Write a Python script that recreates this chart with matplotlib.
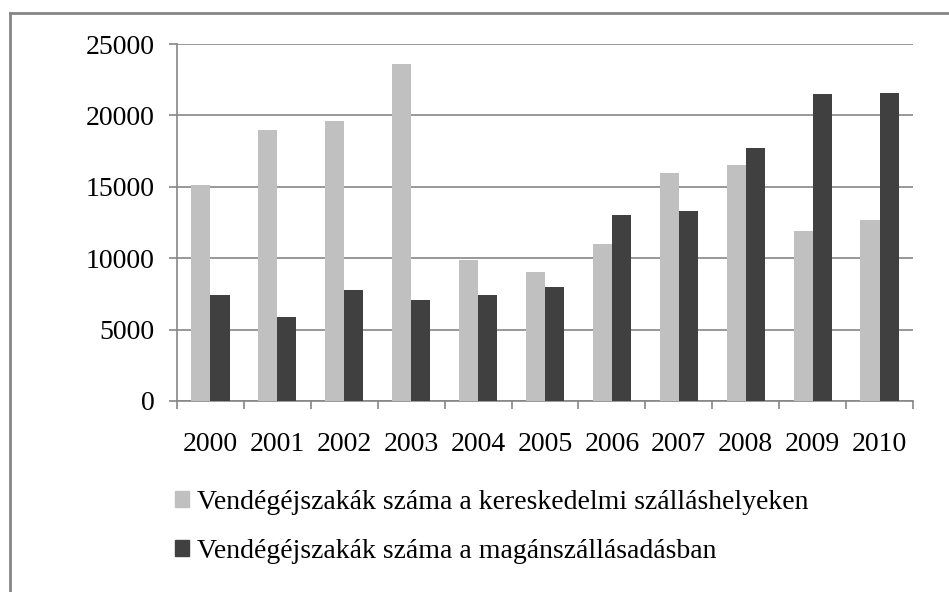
import numpy as np
import matplotlib
matplotlib.use("Agg")
import matplotlib.pyplot as plt
from matplotlib.lines import Line2D
from matplotlib.patches import Patch

years = ["2000", "2001", "2002", "2003", "2004", "2005",
         "2006", "2007", "2008", "2009", "2010"]
kereskedelmi = [15100, 19000, 19600, 23600, 9900, 9000,
                11000, 16000, 16500, 11900, 12650]
maganszallas = [7400, 5900, 7800, 7100, 7400, 8000,
                13000, 13300, 17700, 21500, 21600]
label_keresk = "Vendégéjszakák száma a kereskedelmi szálláshelyeken"
label_magan = "Vendégéjszakák száma a magánszállásadásban"

light = "#c0c0c0"
dark = "#404040"
grid_col = "#868686"

plt.rcParams["font.family"] = ["Liberation Serif", "DejaVu Serif"]

W, H = 949, 592
fig = plt.figure(figsize=(W / 100, H / 100), dpi=100)
ax = fig.add_axes([177 / W, 1 - 401 / H, (913 - 177) / W, (401 - 44) / H])

x = np.arange(len(years))
bw = 0.285
ax.bar(x - bw / 2, kereskedelmi, bw, color=light, label=label_keresk, zorder=3)
ax.bar(x + bw / 2, maganszallas, bw, color=dark, label=label_magan, zorder=3)

ax.set_xlim(-0.5, len(years) - 0.5)
ax.set_ylim(0, 25000)
ax.set_yticks(np.arange(0, 25001, 5000))
ax.yaxis.grid(True, color=grid_col, linewidth=1.2, zorder=0)

ax.set_xticks(x)
ax.set_xticklabels(years)
ax.set_xticks(np.arange(-0.5, len(years), 1), minor=True)
ax.tick_params(axis="x", which="major", length=0, pad=22, labelsize=20)
ax.tick_params(axis="x", which="minor", length=6, color=grid_col, width=1.2)
ax.tick_params(axis="y", length=6, color=grid_col, width=1.2, pad=10, labelsize=20)

for s in ["top", "right"]:
    ax.spines[s].set_visible(False)
for s in ["left", "bottom"]:
    ax.spines[s].set_color(grid_col)
    ax.spines[s].set_linewidth(1.2)

handles = [Patch(color=light), Patch(color=dark)]
fig.legend(handles, [label_keresk, label_magan], loc="upper left",
           bbox_to_anchor=(175 / W, 1 - 490 / H), frameon=False,
           borderpad=0, borderaxespad=0,
           fontsize=20, handlelength=0.5, handleheight=0.5,
           handletextpad=0.3, labelspacing=0.85)

# outer chart frame (cropped at right and bottom)
fig.add_artist(Line2D([10 / W, 1], [1 - 13 / H, 1 - 13 / H], color="#868686", linewidth=2))
fig.add_artist(Line2D([10 / W, 10 / W], [0, 1 - 13 / H], color="#868686", linewidth=2))

fig.savefig("out.png", dpi=100)
